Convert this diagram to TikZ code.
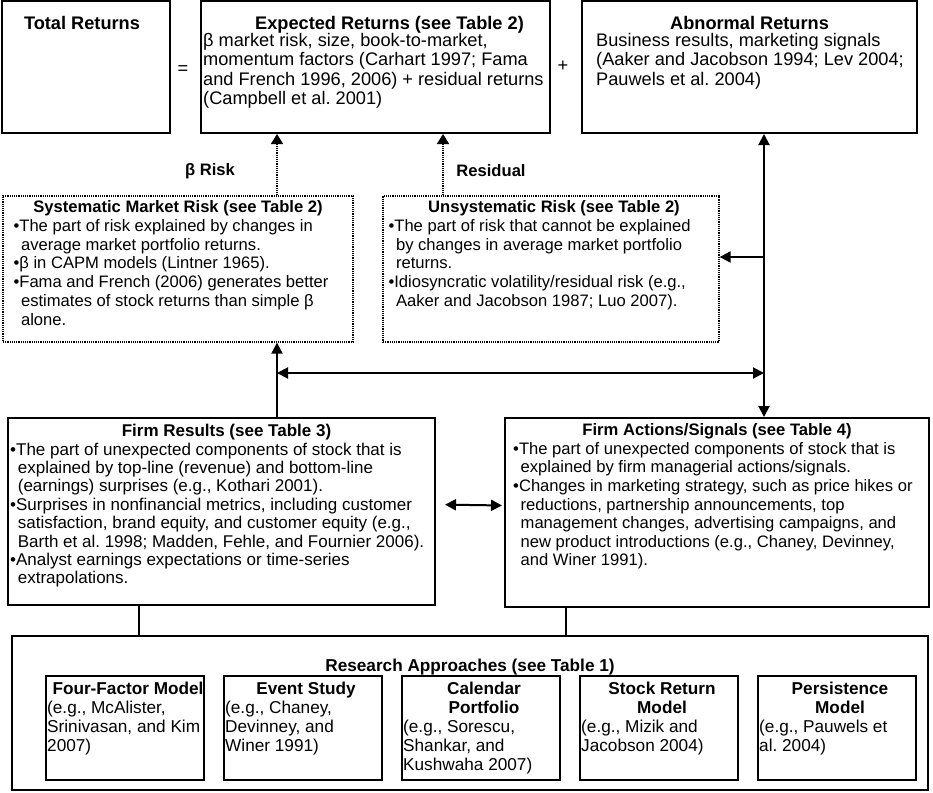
\documentclass[tikz,border=0pt]{standalone}
\usepackage{fontspec}
\setmainfont{Liberation Sans}
\usetikzlibrary{arrows.meta, positioning}
\newcommand{\cont}{\hspace*{0.45em}}
\frenchspacing

\begin{document}
\begin{tikzpicture}[x=1pt, y=-1pt,
        box/.style={draw, line width=2pt, inner sep=0pt},
        dotbox/.style={draw, line width=1.3pt, dash pattern=on 1.2pt off 1pt, inner sep=0pt},
        thead/.style={inner sep=0pt, align=center, font=\fontsize{18.2}{19.5}\selectfont\bfseries},
        tbody/.style={inner sep=0pt, align=left, font=\fontsize{18.2}{19.5}\selectfont},
        rhead/.style={inner sep=0pt, align=center, font=\fontsize{16.6}{18.7}\selectfont\bfseries},
        rbody/.style={inner sep=0pt, align=left, font=\fontsize{16.6}{18.7}\selectfont},
        fhead/.style={inner sep=0pt, align=center, font=\fontsize{17}{18.4}\selectfont\bfseries},
        fbody/.style={inner sep=0pt, align=left, font=\fontsize{17}{18.4}\selectfont},
        shead/.style={inner sep=0pt, align=center, font=\fontsize{16.6}{18.6}\selectfont\bfseries},
        sbody/.style={inner sep=0pt, align=left, font=\fontsize{16.6}{18.6}\selectfont},
        ahead/.style={inner sep=0pt, align=center, font=\fontsize{17.2}{19}\selectfont\bfseries},
        abody/.style={inner sep=0pt, align=left, font=\fontsize{17.2}{19}\selectfont},
        arrow/.style={-{Triangle[length=11pt,width=11pt]}, line width=2pt},
        dblarrow/.style={{Triangle[length=11pt,width=11pt]}-{Triangle[length=11pt,width=11pt]}, line width=2pt},
        dotarrow/.style={-{Triangle[length=10pt,width=12pt]}, line width=1.6pt, dash pattern=on 1.2pt off 1pt},
        link/.style={line width=2pt}
    ]
        \useasboundingbox (0,0) rectangle (933,792);

        % Returns row
        \node[box, minimum width=168pt, minimum height=132pt] (total) at (86,67) {};
        \node[thead, below=16pt of total.north, xshift=-4pt] (totalhd) {Total Returns};
        \node[tbody] (eq) at (183,70) {=};

        \node[box, minimum width=349pt, minimum height=132pt] (expected) at (375.5,67) {};
        \node[thead, below=16pt of expected.north, xshift=14pt] (expectedhd) {Expected Returns (see Table 2)};
        \node[tbody, below right=33pt and 3pt of expected.north west] (expectedtx) {β market risk, size, book-to-market,\\
            momentum factors (Carhart 1997; Fama\\
            and French 1996, 2006) + residual returns\\
            (Campbell et al. 2001)};
        \node[tbody] (plus) at (563,66) {+};

        \node[box, minimum width=335pt, minimum height=132pt] (abnormal) at (749.5,67) {};
        \node[thead, below=16pt of abnormal.north] (abnormalhd) {Abnormal Returns};
        \node[tbody, below right=33pt and 15pt of abnormal.north west] (abnormaltx) {Business results, marketing signals\\
            (Aaker and Jacobson 1994; Lev 2004;\\
            Pauwels et al. 2004)};

        % Risk row
        \node[dotbox, minimum width=350pt, minimum height=146pt] (systematic) at (178,269) {};
        \node[rhead, below=5pt of systematic.north] (systematichd) {Systematic Market Risk (see Table 2)};
        \node[rbody, below right=24pt and 11pt of systematic.north west] (systematictx) {\textbullet The part of risk explained by changes in\\
            \cont average market portfolio returns.\\
            \textbullet β in CAPM models (Lintner 1965).\\
            \textbullet Fama and French (2006) generates better\\
            \cont estimates of stock returns than simple β\\
            \cont alone.};

        \node[dotbox, minimum width=336pt, minimum height=146pt] (unsystematic) at (551,269) {};
        \node[rhead, below=5pt of unsystematic.north, xshift=3pt] (unsystematichd) {Unsystematic Risk (see Table 2)};
        \node[rbody, below right=24pt and 6pt of unsystematic.north west] (unsystematictx) {\textbullet The part of risk that cannot be explained\\
            \cont by changes in average market portfolio\\
            \cont returns.\\
            \textbullet Idiosyncratic volatility/residual risk (e.g.,\\
            \cont Aaker and Jacobson 1987; Luo 2007).};

        \node[rhead] (betalbl) at (210,171) {β Risk};
        \node[rhead] (residuallbl) at (491,171) {Residual};

        % Firm row
        \node[box, minimum width=427pt, minimum height=187pt] (results) at (221.5,511.5) {};
        \node[fhead, below=7pt of results.north, xshift=5pt] (resultshd) {Firm Results (see Table 3)};
        \node[fbody, below right=25.5pt and 3pt of results.north west] (resultstx) {\textbullet The part of unexpected components of stock that is\\
            \cont explained by top-line (revenue) and bottom-line\\
            \cont (earnings) surprises (e.g., Kothari 2001).\\
            \textbullet Surprises in nonfinancial metrics, including customer\\
            \cont satisfaction, brand equity, and customer equity (e.g.,\\
            \cont Barth et al. 1998; Madden, Fehle, and Fournier 2006).\\
            \textbullet Analyst earnings expectations or time-series\\
            \cont extrapolations.};

        \node[box, minimum width=424pt, minimum height=189pt] (actions) at (717,512.5) {};
        \node[shead, below=6pt of actions.north] (actionshd) {Firm Actions/Signals (see Table 4)};
        \node[sbody, below right=25pt and 9pt of actions.north west] (actionstx) {\textbullet The part of unexpected components of stock that is\\
            \cont explained by firm managerial actions/signals.\\
            \textbullet Changes in marketing strategy, such as price hikes or\\
            \cont reductions, partnership announcements, top\\
            \cont management changes, advertising campaigns, and\\
            \cont new product introductions (e.g., Chaney, Devinney,\\
            \cont and Winer 1991).};

        % Research approaches
        \node[box, minimum width=916pt, minimum height=154pt] (research) at (470,713) {};
        \node[ahead, below=24pt of research.north] (researchhd) {Research Approaches (see Table 1)};

        \node[box, minimum width=158pt, minimum height=104pt] (fourfactor) at (125,728) {};
        \node[ahead, below=7pt of fourfactor.north, xshift=3pt] (fourfactorhd) {Four-Factor Model};
        \node[abody, below right=26pt and 2pt of fourfactor.north west] (fourfactortx) {(e.g., McAlister,\\Srinivasan, and Kim\\2007)};

        \node[box, minimum width=158pt, minimum height=104pt] (eventstudy) at (303,728) {};
        \node[ahead, below=7pt of eventstudy.north, xshift=3pt] (eventstudyhd) {Event Study};
        \node[abody, below right=26pt and 2pt of eventstudy.north west] (eventstudytx) {(e.g., Chaney,\\Devinney, and\\Winer 1991)};

        \node[box, minimum width=158pt, minimum height=104pt] (calendar) at (481,728) {};
        \node[ahead, below=7pt of calendar.north, xshift=3pt] (calendarhd) {Calendar\\Portfolio};
        \node[abody, below right=45pt and 2pt of calendar.north west] (calendartx) {(e.g., Sorescu,\\Shankar, and\\Kushwaha 2007)};

        \node[box, minimum width=158pt, minimum height=104pt] (stockret) at (659,728) {};
        \node[ahead, below=7pt of stockret.north, xshift=3pt] (stockrethd) {Stock Return\\Model};
        \node[abody, below right=45pt and 2pt of stockret.north west] (stockrettx) {(e.g., Mizik and\\Jacobson 2004)};

        \node[box, minimum width=158pt, minimum height=104pt] (persist) at (837,728) {};
        \node[ahead, below=7pt of persist.north, xshift=3pt] (persisthd) {Persistence\\Model};
        \node[abody, below right=45pt and 2pt of persist.north west] (persisttx) {(e.g., Pauwels et\\al. 2004)};

        % Connector guides
        \coordinate (betax) at (277,0);
        \coordinate (resx) at (443,0);
        \coordinate (mainx) at (764,0);
        \coordinate (resultsx) at (139,0);
        \coordinate (actionsx) at (566,0);
        \coordinate (unsy) at (0,257);
        \coordinate (midy) at (0,373);

        % Arrows
        \draw[dotarrow] (systematic.north -| betax) -- (expected.south -| betax);
        \draw[dotarrow] (unsystematic.north -| resx) -- (expected.south -| resx);
        \draw[dblarrow] (abnormal.south -| mainx) -- (actions.north -| mainx);
        \draw[arrow] (mainx |- unsy) -- (unsystematic.east |- unsy);
        \draw[arrow] (results.north -| betax) -- (systematic.south -| betax);
        \draw[dblarrow] (betax |- midy) -- (mainx |- midy);
        \draw[dblarrow, shorten <=9pt, shorten >=2pt] ([yshift=7pt]results.east) -- ([yshift=7pt]actions.west);
        \draw[link] (results.south -| resultsx) -- (research.north -| resultsx);
        \draw[link] (actions.south -| actionsx) -- (research.north -| actionsx);
    \end{tikzpicture}
\end{document}
